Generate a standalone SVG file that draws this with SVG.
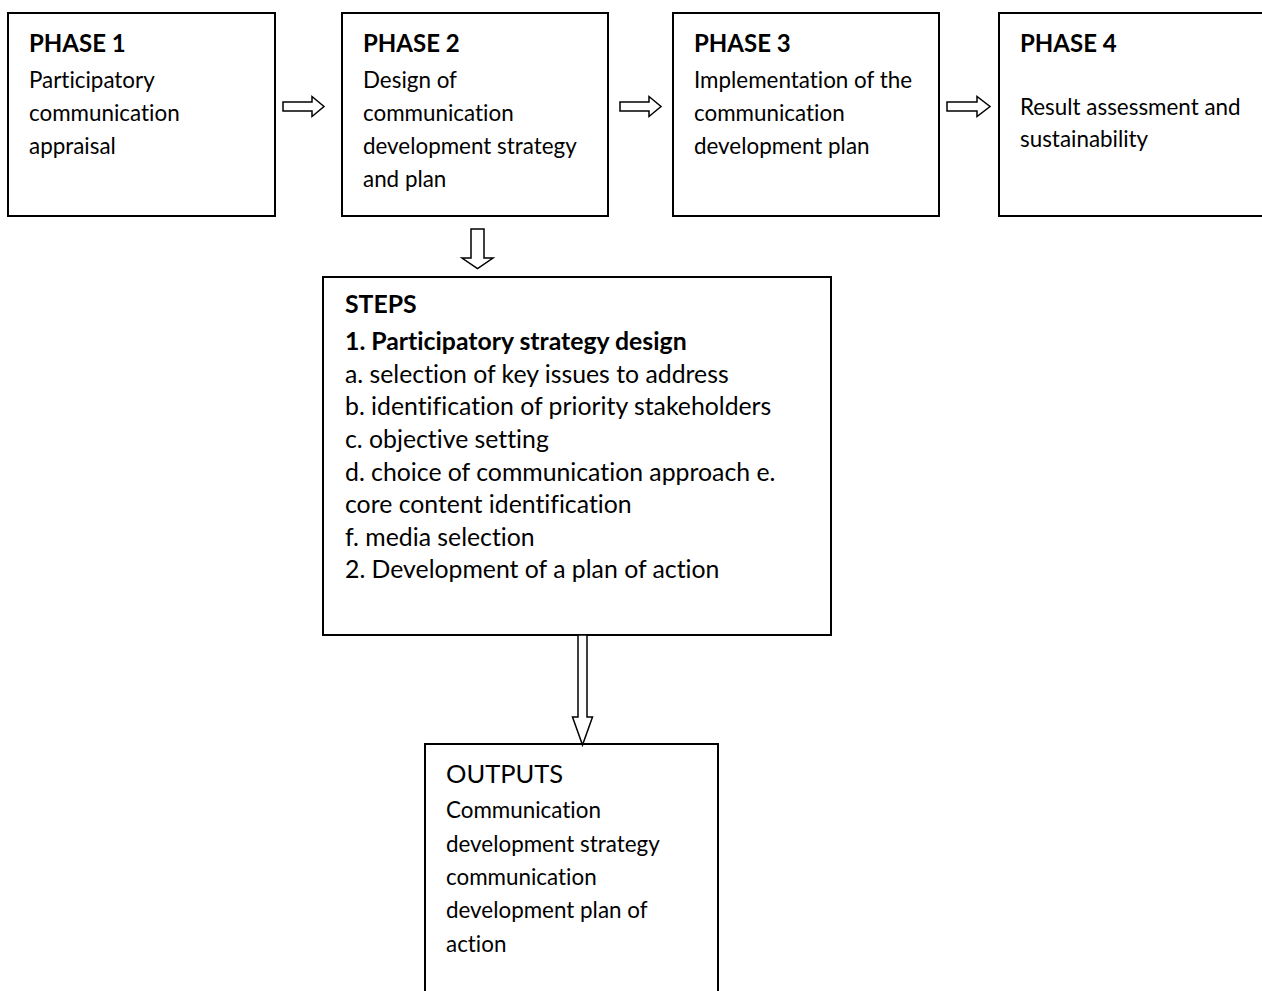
<svg xmlns="http://www.w3.org/2000/svg" width="1262" height="991" viewBox="0 0 1262 991">
<style>
.box{fill:#fff;stroke:#000;stroke-width:2}
.arr{fill:#fff;stroke:#000;stroke-width:1.5;stroke-linejoin:miter}
text{font-family:Lato,"Open Sans","Liberation Sans",sans-serif;fill:#000;font-variant-ligatures:none}
.h{font-weight:bold;font-size:24px}
.b{font-size:22.4px}
.s{font-size:24.8px}
.sb{font-size:24.8px;font-weight:bold}
.o{font-size:25.5px}
</style>
<rect width="1262" height="991" fill="#fff"/>
<g id="phase1">
<rect class="box" x="8" y="13" width="267" height="203"/>
<text class="h" x="29" y="52">PHASE 1</text>
<text class="b" x="29" y="88">Participatory</text>
<text class="b" x="29" y="121">communication</text>
<text class="b" x="29" y="154">appraisal</text>
</g>
<g id="phase2">
<rect class="box" x="342" y="13" width="266" height="203"/>
<text class="h" x="363" y="52">PHASE 2</text>
<text class="b" x="363" y="88">Design of</text>
<text class="b" x="363" y="121">communication</text>
<text class="b" x="363" y="154">development strategy</text>
<text class="b" x="363" y="187">and plan</text>
</g>
<g id="phase3">
<rect class="box" x="673" y="13" width="266" height="203"/>
<text class="h" x="694" y="52">PHASE 3</text>
<text class="b" x="694" y="88">Implementation of the</text>
<text class="b" x="694" y="121">communication</text>
<text class="b" x="694" y="154">development plan</text>
</g>
<g id="phase4">
<rect class="box" x="999" y="13" width="280" height="203"/>
<text class="h" x="1020" y="52">PHASE 4</text>
<text class="b" x="1020" y="115">Result assessment and</text>
<text class="b" x="1020" y="147">sustainability</text>
</g>
<g id="steps">
<rect class="box" x="323" y="277" width="508" height="358"/>
<text class="sb" x="345" y="313">STEPS</text>
<text class="sb" x="345" y="350">1. Participatory strategy design</text>
<text class="s" x="345" y="383">a. selection of key issues to address</text>
<text class="s" x="345" y="415">b. identification of priority stakeholders</text>
<text class="s" x="345" y="448">c. objective setting</text>
<text class="s" x="345" y="481">d. choice of communication approach e.</text>
<text class="s" x="345" y="513">core content identification</text>
<text class="s" x="345" y="546">f. media selection</text>
<text class="s" x="345" y="578">2. Development of a plan of action</text>
</g>
<g id="outputs">
<rect class="box" x="425" y="744" width="293" height="260"/>
<text class="o" x="446" y="783">OUTPUTS</text>
<text class="b" x="446" y="818">Communication</text>
<text class="b" x="446" y="852">development strategy</text>
<text class="b" x="446" y="885">communication</text>
<text class="b" x="446" y="918">development plan of</text>
<text class="b" x="446" y="952">action</text>
</g>
<g id="connectors">
<polygon class="arr" points="283,102 312,102 312,96.5 324,106.5 312,116.5 312,111 283,111"/>
<polygon class="arr" points="620,102 649,102 649,96.5 661,106.5 649,116.5 649,111 620,111"/>
<polygon class="arr" points="947,102 977,102 977,96.5 990,106.5 977,116.5 977,111 947,111"/>
<polygon class="arr" points="471,229 484,229 484,258 493,258 477.5,268.5 462,258 471,258"/>
<polygon class="arr" points="578,635 587,635 587,717 592.5,717 582.5,745 572.5,717 578,717"/>
</g>
</svg>
